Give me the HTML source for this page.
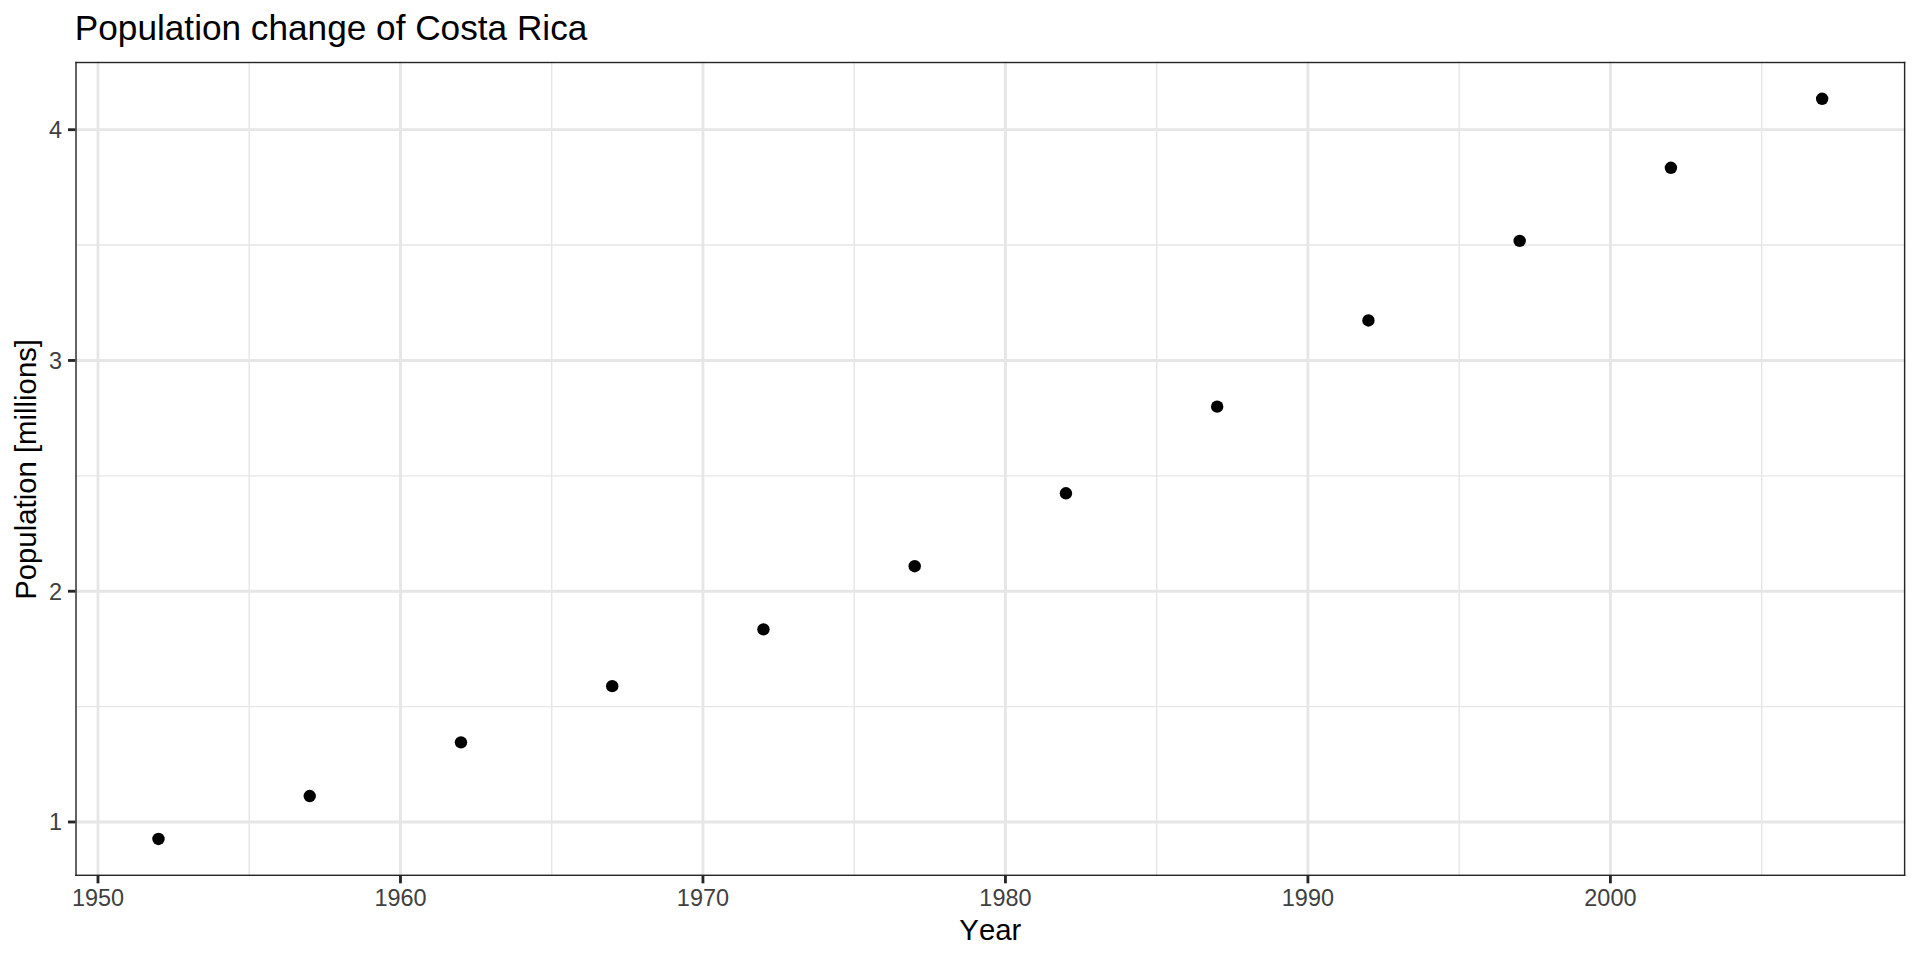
<!DOCTYPE html>
<html lang="en"><head><meta charset="utf-8"><title>Population change of Costa Rica</title>
<style>html,body{margin:0;padding:0;background:#fff;}svg{display:block;}text{font-family:"Liberation Sans",Arial,Helvetica,sans-serif;font-kerning:none;}</style></head><body>
<svg width="1920" height="960" viewBox="0 0 1920 960">
<rect width="1920" height="960" fill="#ffffff"/>
<g stroke="#e6e6e6" stroke-width="1.42" fill="none">
<line x1="249.23" x2="249.23" y1="61.8" y2="876.0"/>
<line x1="551.71" x2="551.71" y1="61.8" y2="876.0"/>
<line x1="854.20" x2="854.20" y1="61.8" y2="876.0"/>
<line x1="1156.68" x2="1156.68" y1="61.8" y2="876.0"/>
<line x1="1459.17" x2="1459.17" y1="61.8" y2="876.0"/>
<line x1="1761.65" x2="1761.65" y1="61.8" y2="876.0"/>
<line y1="706.61" y2="706.61" x1="75.3" x2="1905.33"/>
<line y1="475.85" y2="475.85" x1="75.3" x2="1905.33"/>
<line y1="245.08" y2="245.08" x1="75.3" x2="1905.33"/>
</g>
<g stroke="#e6e6e6" stroke-width="2.84" fill="none">
<line x1="97.99" x2="97.99" y1="61.8" y2="876.0"/>
<line x1="400.47" x2="400.47" y1="61.8" y2="876.0"/>
<line x1="702.95" x2="702.95" y1="61.8" y2="876.0"/>
<line x1="1005.44" x2="1005.44" y1="61.8" y2="876.0"/>
<line x1="1307.92" x2="1307.92" y1="61.8" y2="876.0"/>
<line x1="1610.41" x2="1610.41" y1="61.8" y2="876.0"/>
<line y1="821.99" y2="821.99" x1="75.3" x2="1905.33"/>
<line y1="591.23" y2="591.23" x1="75.3" x2="1905.33"/>
<line y1="360.47" y2="360.47" x1="75.3" x2="1905.33"/>
<line y1="129.70" y2="129.70" x1="75.3" x2="1905.33"/>
</g>
<g fill="#000000">
<circle cx="158.48" cy="838.99" r="6.2"/>
<circle cx="309.73" cy="796.07" r="6.2"/>
<circle cx="460.97" cy="742.33" r="6.2"/>
<circle cx="612.21" cy="686.13" r="6.2"/>
<circle cx="763.45" cy="629.35" r="6.2"/>
<circle cx="914.69" cy="566.20" r="6.2"/>
<circle cx="1065.94" cy="493.30" r="6.2"/>
<circle cx="1217.18" cy="406.66" r="6.2"/>
<circle cx="1368.42" cy="320.49" r="6.2"/>
<circle cx="1519.66" cy="240.91" r="6.2"/>
<circle cx="1670.90" cy="167.80" r="6.2"/>
<circle cx="1822.15" cy="98.81" r="6.2"/>
</g>
<g fill="#262626">
<rect x="75.3" y="61.8" width="1.42" height="814.20"/>
<rect x="1903.91" y="61.8" width="1.42" height="814.20"/>
<rect x="75.3" y="61.8" width="1830.03" height="1.42"/>
<rect x="75.3" y="874.58" width="1830.03" height="1.42"/>
</g>
<g stroke="#262626" stroke-width="2.84" fill="none">
<line x1="97.99" x2="97.99" y1="876.0" y2="883.33"/>
<line x1="400.47" x2="400.47" y1="876.0" y2="883.33"/>
<line x1="702.95" x2="702.95" y1="876.0" y2="883.33"/>
<line x1="1005.44" x2="1005.44" y1="876.0" y2="883.33"/>
<line x1="1307.92" x2="1307.92" y1="876.0" y2="883.33"/>
<line x1="1610.41" x2="1610.41" y1="876.0" y2="883.33"/>
<line y1="821.99" y2="821.99" x1="67.97" x2="75.3"/>
<line y1="591.23" y2="591.23" x1="67.97" x2="75.3"/>
<line y1="360.47" y2="360.47" x1="67.97" x2="75.3"/>
<line y1="129.70" y2="129.70" x1="67.97" x2="75.3"/>
</g>
<g fill="#404040" font-size="23.47px">
<text transform="translate(97.99,905.9) scale(1,1.025)" text-anchor="middle">1950</text>
<text transform="translate(400.47,905.9) scale(1,1.025)" text-anchor="middle">1960</text>
<text transform="translate(702.95,905.9) scale(1,1.025)" text-anchor="middle">1970</text>
<text transform="translate(1005.44,905.9) scale(1,1.025)" text-anchor="middle">1980</text>
<text transform="translate(1307.92,905.9) scale(1,1.025)" text-anchor="middle">1990</text>
<text transform="translate(1610.41,905.9) scale(1,1.025)" text-anchor="middle">2000</text>
<text transform="translate(62.15,830.34) scale(1,1.025)" text-anchor="end">1</text>
<text transform="translate(62.15,599.58) scale(1,1.025)" text-anchor="end">2</text>
<text transform="translate(62.15,368.82) scale(1,1.025)" text-anchor="end">3</text>
<text transform="translate(62.15,138.05) scale(1,1.025)" text-anchor="end">4</text>
</g>
<text x="74.8" y="40" font-size="35.2px" fill="#000">Population change of Costa Rica</text>
<text x="990.31" y="939.8" font-size="29.33px" fill="#000" text-anchor="middle">Year</text>
<text transform="translate(35.5,469.40) rotate(-90)" font-size="29.33px" fill="#000" text-anchor="middle">Population [millions]</text>
</svg></body></html>
